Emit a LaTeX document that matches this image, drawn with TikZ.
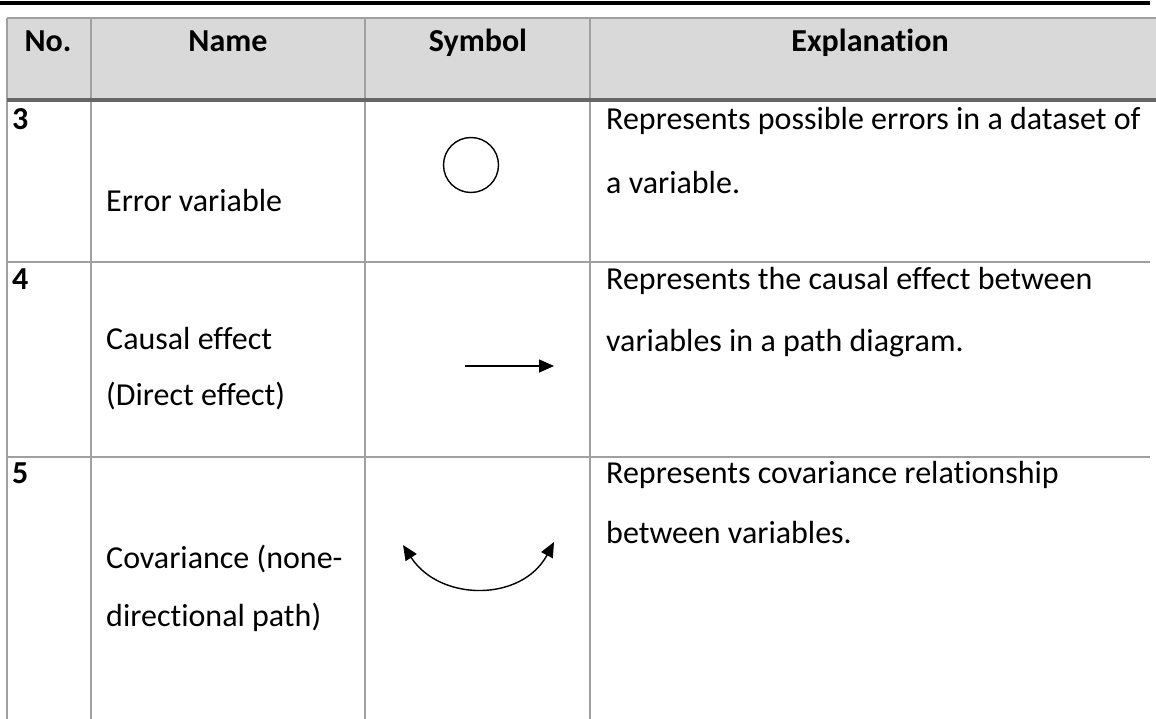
\documentclass[tikz,border=0pt]{standalone}
\usepackage{fontspec}
\setmainfont[Ligatures={NoCommon}]{Carlito}
\usetikzlibrary{arrows.meta}
\definecolor{headfill}{HTML}{D9D9D9}
\definecolor{gridline}{HTML}{A0A0A0}
\definecolor{headrule}{HTML}{666666}
\tikzset{tiphead/.tip={Triangle[length=15pt,width=13pt]}}
\begin{document}
\begin{tikzpicture}[x=1pt,y=-1pt,
  txt/.style={font=\fontsize{32}{38}\selectfont, inner sep=0pt, text height=22pt, text depth=7pt},
  head/.style={txt, font=\fontsize{32}{38}\selectfont\bfseries},
  num/.style={txt, anchor=west, font=\fontsize{32}{38}\selectfont\bfseries},
  cell/.style={txt, anchor=west},
  grid/.style={draw=gridline, line width=1.6pt},
  symline/.style={line width=1.4pt, black}]
\useasboundingbox (0,0) rectangle (1156,719);

% header band and rules
\fill[headfill] (7,18) rectangle (1156,100);
\draw[line width=3.2pt, black] (0,3) -- (1150,3);
\draw[grid] (7,18) -- (1156,18);
\foreach \x in {7,91,365,590} \draw[grid] (\x,18) -- (\x,719);
\draw[grid] (7,262) -- (1150,262);
\draw[grid] (7,457) -- (1150,457);
\draw[headrule, line width=3.6pt] (7,100) -- (1156,100);

% header texts
\node[head] (hno)   at (48,44)  {No.};
\node[head] (hname) at (228,44) {Name};
\node[head] (hsym)  at (478,44) {Symbol};
\node[head] (hexp)  at (870,44) {Explanation};

% row 3
\node[num]  (n3)  at (12,122)  {3};
\node[cell] (nm3) at (106,204) {Error variable};
\node[draw, circle, line width=1.4pt, minimum size=55pt, inner sep=0pt] (errc) at (471,165) {};
\node[cell] (e3a) at (606,122) {Represents possible errors in a dataset of};
\node[cell] (e3b) at (606,186) {a variable.};

% row 4
\node[num]  (n4)  at (12,282)  {4};
\node[cell] (nm4a) at (106,342) {Causal effect};
\node[cell] (nm4b) at (106,398) {(Direct effect)};
\coordinate (ca) at (465,366);
\coordinate (cb) at (554,366);
\draw[symline, -tiphead] (ca) -- (cb);
\node[cell] (e4a) at (606,282) {Represents the causal effect between};
\node[cell] (e4b) at (606,344) {variables in a path diagram.};

% row 5
\node[num]  (n5)  at (12,476)  {5};
\node[cell] (nm5a) at (106,561) {Covariance (none-};
\node[cell] (nm5b) at (106,619) {directional path)};
\coordinate (cl) at (403,545);
\coordinate (cr) at (554,542);
\draw[symline, tiphead-tiphead]
  (cl) .. controls (440,602) and (522,602) .. (cr);
\node[cell] (e5a) at (606,476) {Represents covariance relationship};
\node[cell] (e5b) at (606,536) {between variables.};
\end{tikzpicture}
\end{document}
